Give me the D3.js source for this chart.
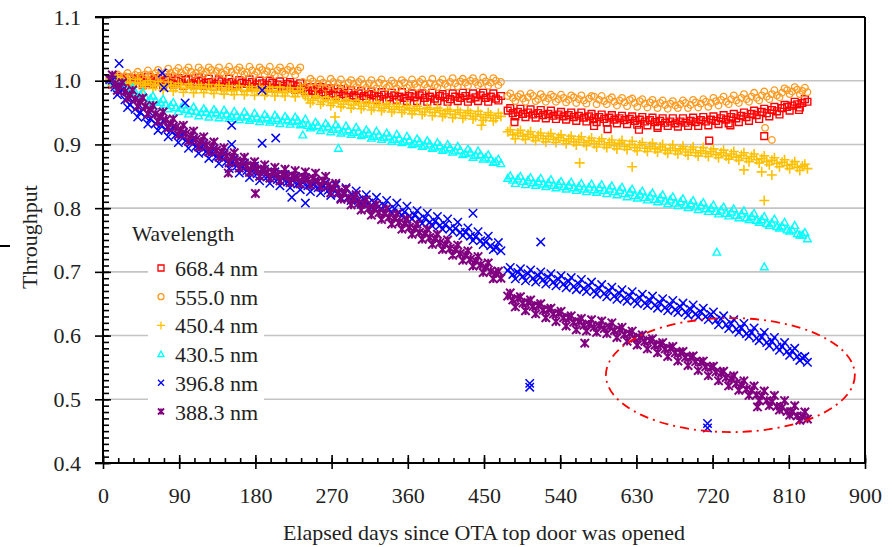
<!DOCTYPE html>
<html>
<head>
<meta charset="utf-8">
<script src="https://cdn.jsdelivr.net/npm/d3@7"></script>
</head>
<body style="margin:0">
<svg id="chart" width="894" height="547"></svg>
<script>
// ─── Data ─────────────────────────────────────────────────────────────────
// measurement days: first pass before / after the gap
const daysA = [8,14,20,26,32,38,44,50,56,62,68,74,80,86,92,98,104,110,116,122,
  128,134,140,146,152,158,164,170,176,182,188,194,200,206,212,218,224,230,236,242,
  248,254,260,266,272,278,284,290,296,302,308,314,320,326,332,338,344,350,356,362,
  368,374,380,386,392,398,404,410,416,422,428,434,440,446,452,458,464,470];
const daysB = [478,484,490,496,502,508,514,520,526,532,538,544,550,556,562,568,574,580,586,592,
  598,604,610,616,622,628,634,640,646,652,658,664,670,676,682,688,694,700,706,712,
  718,724,730,736,742,748,754,760,766,772,778,784,790,796,802,808,814,820,826,832];
// second pass, in between
const daysC = [11,17,23,29,35,41,47,53,59,65,71,77,83,89,95,101,107,113,119,125,
  131,137,143,149,155,161,167,173,179,185,191,197,203,209,215,221,227,233,239,245,
  251,257,263,269,275,281,287,293,299,305,311,317,323,329,335,341,347,353,359,365,
  371,377,383,389,395,401,407,413,419,425,431,437,443,449,455,461,467];
const daysD = [481,487,493,499,505,511,517,523,529,535,541,547,553,559,565,571,577,583,589,595,
  601,607,613,619,625,631,637,643,649,655,661,667,673,679,685,691,697,703,709,715,
  721,727,733,739,745,751,757,763,769,775,781,787,793,799,805,811,817,823,829];

const wavelengths = ["668.4 nm", "555.0 nm", "450.4 nm", "430.5 nm", "396.8 nm", "388.3 nm"];

const thr668 = [
  1.002,0.999,1.003,1.000,0.998,1.002,1.001,0.997,1.000,1.002,
  0.999,1.001,0.997,1.000,0.998,1.001,0.996,0.999,1.000,0.997,
  0.998,0.995,0.999,0.996,0.998,0.994,0.997,0.995,0.998,0.994,
  0.996,0.993,0.997,0.994,0.992,0.995,0.993,0.991,0.988,0.985,
  0.984,0.986,0.982,0.984,0.980,0.982,0.979,0.981,0.977,0.980,
  0.976,0.979,0.977,0.975,0.978,0.974,0.977,0.975,0.973,0.976,
  0.974,0.977,0.973,0.975,0.972,0.976,0.974,0.971,0.975,0.973,
  0.976,0.972,0.974,0.977,0.973,0.975,0.972,0.976,
  0.953,0.949,0.951,0.948,0.950,0.947,0.949,0.946,0.948,0.945,
  0.947,0.944,0.946,0.943,0.945,0.942,0.944,0.941,0.943,0.940,
  0.942,0.939,0.941,0.938,0.940,0.937,0.939,0.936,0.938,0.935,
  0.937,0.934,0.936,0.933,0.936,0.934,0.937,0.935,0.938,0.936,
  0.939,0.937,0.941,0.939,0.943,0.941,0.945,0.943,0.948,0.946,
  0.951,0.949,0.954,0.952,0.957,0.959,0.961,0.963,0.965,0.967];
const thr668b = [
  0.994,1.006,0.996,1.005,0.995,1.004,0.993,1.006,0.995,1.004,
  0.993,1.005,0.994,1.004,0.992,1.003,0.993,1.005,0.992,1.003,
  0.991,1.002,0.990,1.003,0.991,1.001,0.989,1.002,0.990,1.000,
  0.989,1.000,0.988,0.999,0.987,0.998,0.986,0.996,0.984,0.990,
  0.978,0.990,0.977,0.988,0.976,0.987,0.974,0.985,0.973,0.984,
  0.971,0.983,0.970,0.982,0.969,0.981,0.970,0.982,0.968,0.980,
  0.968,0.980,0.967,0.981,0.968,0.979,0.967,0.980,0.968,0.981,
  0.967,0.980,0.968,0.981,0.967,0.980,0.969,
  0.957,0.944,0.956,0.943,0.955,0.942,0.954,0.941,0.953,0.940,
  0.951,0.939,0.950,0.937,0.950,0.936,0.948,0.935,0.947,0.934,
  0.946,0.933,0.945,0.932,0.944,0.931,0.943,0.930,0.942,0.929,
  0.941,0.929,0.941,0.928,0.941,0.929,0.942,0.929,0.943,0.930,
  0.944,0.932,0.946,0.933,0.948,0.935,0.950,0.937,0.953,0.940,
  0.956,0.944,0.959,0.947,0.962,0.953,0.967,0.958,0.971];
const thr555 = [
  1.002,1.005,1.004,1.007,1.006,1.009,1.008,1.010,1.009,1.012,
  1.011,1.013,1.012,1.015,1.013,1.016,1.014,1.012,1.016,1.014,
  1.017,1.015,1.013,1.016,1.014,1.017,1.015,1.013,1.016,1.014,
  1.017,1.015,1.013,1.016,1.014,1.017,1.015,1.016,0.998,0.996,
  0.999,0.995,0.997,0.994,0.998,0.996,0.993,0.997,0.995,0.998,
  0.994,0.996,0.993,0.997,0.995,0.992,0.996,0.994,0.997,0.993,
  0.995,0.998,0.994,0.996,0.993,0.997,0.995,0.998,0.996,0.999,
  0.997,1.000,0.998,0.996,0.999,0.997,1.000,0.998,
  0.976,0.973,0.975,0.972,0.974,0.976,0.971,0.974,0.972,0.975,
  0.971,0.973,0.970,0.974,0.971,0.969,0.972,0.975,0.970,0.968,
  0.971,0.967,0.969,0.966,0.970,0.965,0.968,0.964,0.966,0.963,
  0.965,0.962,0.964,0.961,0.963,0.965,0.962,0.966,0.964,0.967,
  0.965,0.968,0.970,0.967,0.971,0.969,0.973,0.971,0.975,0.973,
  0.977,0.975,0.979,0.977,0.981,0.985,0.983,0.986,0.984,0.982];
const thr555b = [
  0.998,1.010,1.000,1.012,1.002,1.014,1.004,1.016,1.005,1.017,
  1.006,1.019,1.008,1.020,1.009,1.021,1.009,1.021,1.010,1.021,
  1.009,1.021,1.010,1.022,1.009,1.021,1.010,1.022,1.009,1.021,
  1.010,1.022,1.009,1.021,1.010,1.022,1.009,1.021,0.991,1.003,
  0.990,1.002,0.989,1.003,0.990,1.002,0.989,1.001,0.990,1.002,
  0.989,1.001,0.988,1.002,0.989,1.000,0.988,1.001,0.989,1.002,
  0.990,1.002,0.989,1.003,0.990,1.002,0.991,1.004,0.991,1.003,
  0.992,1.004,0.993,1.005,0.992,1.004,0.993,
  0.980,0.968,0.979,0.967,0.980,0.968,0.979,0.967,0.978,0.967,
  0.978,0.966,0.977,0.965,0.977,0.964,0.976,0.963,0.976,0.963,
  0.974,0.961,0.973,0.960,0.972,0.959,0.971,0.958,0.970,0.957,
  0.969,0.956,0.968,0.957,0.969,0.957,0.970,0.958,0.971,0.959,
  0.973,0.961,0.975,0.963,0.977,0.965,0.979,0.967,0.981,0.969,
  0.983,0.971,0.985,0.974,0.988,0.979,0.990,0.979,0.989];
const thr450 = [
  1.001,0.998,0.999,0.996,0.998,0.995,0.997,0.993,0.996,0.992,
  0.994,0.991,0.993,0.989,0.992,0.988,0.991,0.987,0.990,0.988,
  0.986,0.989,0.985,0.988,0.984,0.987,0.985,0.983,0.987,0.984,
  0.986,0.982,0.985,0.983,0.981,0.985,0.982,0.984,0.980,0.972,
  0.969,0.973,0.967,0.970,0.965,0.968,0.963,0.967,0.962,0.965,
  0.960,0.964,0.958,0.962,0.957,0.960,0.955,0.959,0.954,0.957,
  0.953,0.956,0.951,0.955,0.950,0.953,0.948,0.952,0.947,0.950,
  0.945,0.949,0.944,0.947,0.942,0.946,0.941,0.944,
  0.920,0.915,0.918,0.913,0.916,0.911,0.914,0.909,0.913,0.908,
  0.911,0.906,0.909,0.904,0.908,0.903,0.906,0.901,0.905,0.900,
  0.903,0.898,0.902,0.897,0.900,0.895,0.899,0.894,0.897,0.893,
  0.896,0.891,0.894,0.890,0.893,0.888,0.892,0.887,0.890,0.886,
  0.889,0.884,0.887,0.882,0.885,0.880,0.883,0.878,0.881,0.876,
  0.878,0.873,0.875,0.870,0.872,0.867,0.869,0.864,0.866,0.862];
const thr450b = [
  0.993,1.005,0.992,1.003,0.990,1.002,0.989,1.000,0.988,0.999,
  0.985,0.998,0.984,0.996,0.982,0.995,0.981,0.994,0.981,0.994,
  0.980,0.993,0.979,0.992,0.978,0.992,0.978,0.991,0.977,0.991,
  0.977,0.990,0.976,0.990,0.976,0.989,0.975,0.989,0.976,0.965,
  0.976,0.963,0.974,0.961,0.972,0.959,0.970,0.957,0.969,0.956,
  0.967,0.954,0.966,0.953,0.964,0.951,0.963,0.950,0.961,0.948,
  0.960,0.947,0.958,0.945,0.957,0.944,0.955,0.942,0.954,0.941,
  0.953,0.940,0.952,0.938,0.950,0.937,0.949,
  0.923,0.909,0.922,0.908,0.920,0.906,0.918,0.904,0.917,0.903,
  0.915,0.901,0.913,0.899,0.912,0.898,0.910,0.896,0.909,0.895,
  0.907,0.893,0.906,0.892,0.905,0.890,0.903,0.889,0.902,0.888,
  0.900,0.886,0.899,0.885,0.897,0.883,0.896,0.882,0.895,0.881,
  0.893,0.879,0.891,0.877,0.889,0.875,0.887,0.873,0.885,0.871,
  0.882,0.868,0.879,0.865,0.876,0.862,0.873,0.859,0.869];
const thr430 = [
  1.000,0.996,0.992,0.989,0.985,0.982,0.978,0.975,0.972,0.969,
  0.966,0.963,0.961,0.958,0.957,0.955,0.953,0.952,0.950,0.951,
  0.948,0.950,0.946,0.948,0.944,0.946,0.943,0.945,0.941,0.943,
  0.940,0.942,0.938,0.941,0.937,0.939,0.936,0.938,0.933,0.930,
  0.928,0.930,0.926,0.928,0.924,0.926,0.921,0.923,0.919,0.921,
  0.916,0.918,0.913,0.915,0.911,0.913,0.908,0.910,0.905,0.907,
  0.902,0.904,0.899,0.901,0.896,0.898,0.893,0.895,0.890,0.891,
  0.886,0.888,0.883,0.884,0.879,0.877,0.873,0.870,
  0.847,0.844,0.846,0.842,0.844,0.840,0.842,0.838,0.840,0.836,
  0.838,0.834,0.836,0.832,0.834,0.830,0.833,0.829,0.832,0.828,
  0.830,0.826,0.828,0.823,0.825,0.820,0.822,0.817,0.819,0.814,
  0.816,0.811,0.813,0.808,0.810,0.805,0.807,0.802,0.804,0.799,
  0.800,0.795,0.797,0.792,0.794,0.789,0.791,0.785,0.787,0.781,
  0.782,0.776,0.777,0.771,0.772,0.766,0.766,0.760,0.758,0.752];
const thr430b = [
  1.003,0.988,0.996,0.981,0.989,0.974,0.982,0.967,0.976,0.961,
  0.971,0.956,0.966,0.952,0.962,0.948,0.959,0.945,0.956,0.943,
  0.955,0.942,0.954,0.941,0.952,0.939,0.951,0.938,0.949,0.936,
  0.947,0.935,0.946,0.933,0.944,0.932,0.943,0.931,0.940,0.926,
  0.935,0.922,0.933,0.920,0.931,0.918,0.929,0.916,0.927,0.914,
  0.923,0.910,0.921,0.908,0.918,0.905,0.916,0.903,0.913,0.900,
  0.909,0.897,0.906,0.894,0.903,0.891,0.900,0.888,0.897,0.884,
  0.893,0.880,0.890,0.877,0.884,0.872,0.877,
  0.851,0.839,0.850,0.837,0.848,0.836,0.847,0.834,0.845,0.832,
  0.842,0.830,0.841,0.828,0.839,0.826,0.838,0.825,0.837,0.823,
  0.835,0.821,0.833,0.818,0.830,0.816,0.827,0.813,0.824,0.810,
  0.821,0.807,0.818,0.804,0.815,0.801,0.812,0.798,0.809,0.795,
  0.805,0.791,0.802,0.788,0.799,0.785,0.796,0.782,0.792,0.778,
  0.787,0.773,0.783,0.769,0.778,0.764,0.773,0.758,0.762];
const thr396 = [
  1.002,0.990,0.983,0.970,0.962,0.955,0.950,0.943,0.940,0.933,
  0.930,0.924,0.921,0.915,0.912,0.906,0.903,0.897,0.895,0.889,
  0.887,0.881,0.879,0.873,0.871,0.866,0.864,0.859,0.858,0.854,
  0.853,0.849,0.849,0.845,0.846,0.841,0.843,0.838,0.840,0.835,
  0.837,0.832,0.834,0.828,0.829,0.823,0.824,0.818,0.819,0.813,
  0.814,0.808,0.809,0.803,0.804,0.798,0.799,0.793,0.794,0.788,
  0.789,0.783,0.784,0.778,0.779,0.773,0.774,0.768,0.768,0.762,
  0.762,0.756,0.755,0.749,0.747,0.741,0.738,0.733,
  0.702,0.696,0.699,0.693,0.697,0.690,0.694,0.688,0.691,0.684,
  0.688,0.681,0.685,0.677,0.681,0.674,0.678,0.670,0.674,0.666,
  0.670,0.662,0.666,0.659,0.662,0.655,0.659,0.651,0.655,0.648,
  0.651,0.644,0.648,0.641,0.645,0.637,0.641,0.634,0.637,0.630,
  0.633,0.624,0.626,0.617,0.619,0.610,0.612,0.603,0.605,0.596,
  0.598,0.589,0.591,0.582,0.583,0.575,0.576,0.567,0.565,0.558];
const thr396b = [
  1.001,0.978,0.985,0.958,0.968,0.943,0.956,0.932,0.945,0.922,
  0.937,0.912,0.928,0.903,0.919,0.894,0.910,0.886,0.902,0.878,
  0.894,0.870,0.886,0.862,0.878,0.855,0.871,0.848,0.866,0.843,
  0.861,0.839,0.857,0.835,0.853,0.832,0.850,0.829,0.848,0.826,
  0.844,0.824,0.840,0.820,0.836,0.816,0.832,0.812,0.827,0.806,
  0.821,0.801,0.817,0.797,0.812,0.792,0.808,0.788,0.803,0.783,
  0.796,0.776,0.792,0.772,0.787,0.767,0.783,0.763,0.778,0.757,
  0.769,0.749,0.763,0.743,0.756,0.735,0.746,
  0.707,0.689,0.705,0.686,0.703,0.684,0.700,0.681,0.697,0.678,
  0.694,0.675,0.691,0.672,0.688,0.669,0.684,0.665,0.680,0.661,
  0.676,0.657,0.672,0.654,0.669,0.650,0.665,0.647,0.662,0.643,
  0.658,0.639,0.655,0.636,0.651,0.632,0.648,0.629,0.643,0.625,
  0.637,0.617,0.631,0.611,0.625,0.605,0.619,0.599,0.612,0.592,
  0.605,0.584,0.597,0.577,0.589,0.569,0.580,0.561,0.567];
const thr388 = [
  1.003,0.995,0.991,0.983,0.978,0.971,0.967,0.960,0.955,0.948,
  0.944,0.938,0.933,0.927,0.923,0.917,0.914,0.908,0.905,0.899,
  0.897,0.891,0.888,0.882,0.880,0.874,0.872,0.867,0.866,0.861,
  0.860,0.856,0.856,0.852,0.853,0.849,0.851,0.847,0.849,0.845,
  0.847,0.842,0.843,0.836,0.832,0.825,0.823,0.816,0.814,0.808,
  0.806,0.800,0.799,0.793,0.792,0.786,0.784,0.778,0.776,0.770,
  0.768,0.762,0.760,0.754,0.752,0.746,0.743,0.737,0.735,0.729,
  0.726,0.720,0.717,0.711,0.707,0.701,0.697,0.690,
  0.662,0.656,0.658,0.651,0.652,0.646,0.647,0.640,0.641,0.634,
  0.635,0.628,0.628,0.621,0.622,0.616,0.618,0.613,0.616,0.611,
  0.614,0.608,0.609,0.602,0.603,0.596,0.597,0.591,0.592,0.585,
  0.586,0.579,0.580,0.573,0.573,0.566,0.566,0.559,0.558,0.551,
  0.550,0.543,0.541,0.534,0.532,0.525,0.523,0.516,0.514,0.507,
  0.505,0.498,0.496,0.489,0.487,0.481,0.480,0.474,0.473,0.469];
const thr388b = [
  1.009,0.985,0.997,0.972,0.985,0.960,0.973,0.948,0.961,0.936,
  0.951,0.926,0.940,0.915,0.930,0.905,0.921,0.896,0.912,0.888,
  0.904,0.880,0.895,0.871,0.887,0.863,0.880,0.856,0.873,0.850,
  0.868,0.847,0.864,0.843,0.861,0.840,0.859,0.838,0.857,0.836,
  0.855,0.833,0.850,0.824,0.839,0.814,0.830,0.805,0.821,0.797,
  0.813,0.789,0.806,0.782,0.799,0.775,0.791,0.767,0.783,0.759,
  0.775,0.751,0.767,0.743,0.759,0.735,0.750,0.726,0.742,0.718,
  0.733,0.709,0.724,0.699,0.714,0.689,0.701,
  0.667,0.645,0.661,0.639,0.656,0.634,0.650,0.628,0.643,0.622,
  0.638,0.615,0.631,0.609,0.627,0.607,0.625,0.605,0.623,0.603,
  0.620,0.597,0.613,0.591,0.607,0.585,0.601,0.579,0.595,0.573,
  0.589,0.567,0.583,0.560,0.575,0.553,0.568,0.545,0.560,0.537,
  0.552,0.529,0.544,0.521,0.537,0.514,0.529,0.506,0.521,0.498,
  0.513,0.490,0.506,0.483,0.498,0.475,0.490,0.467,0.480];

// stray points [day, throughput]
const out668 = [[486,0.935],[580,0.929],[596,0.924],[633,0.923],[655,0.926],[716,0.906],[741,0.930],[781,0.913],[822,0.954]];
const out555 = [[782,0.926],[790,0.907]];
const out450 = [[274,0.943],[447,0.930],[563,0.871],[625,0.865],[757,0.860],[778,0.857],[790,0.852],[781,0.812]];
const out430 = [[236,0.915],[278,0.894],[725,0.731],[781,0.708]];
const out396 = [[19,1.027],[70,1.012],[72,0.989],[97,0.965],[152,0.930],[152,0.900],[188,0.985],[188,0.902],[204,0.910],
  [223,0.817],[239,0.808],[437,0.792],[517,0.747],[504,0.519],[504,0.525],[714,0.462],[714,0.455]];
const out388 = [[148,0.855],[180,0.823],[569,0.588],[773,0.488]];

// highlighted region (ellipse): centre day, centre throughput, half-width days, half-height
const ring = { day: 741, thr: 0.538, rDay: 147, rThr: 0.0895 };

const xTicks = [0,90,180,270,360,450,540,630,720,810,900];
const yTicks = [0.4,0.5,0.6,0.7,0.8,0.9,1.0,1.1];

// ─── Setup ────────────────────────────────────────────────────────────────
const SERIF = '"Liberation Serif"';
const svg = d3.select("#chart");
const x = d3.scaleLinear().domain([0, 900]).range([103, 865]);
const y = d3.scaleLinear().domain([0.4, 1.1]).range([463, 17]);
const days1 = daysA.concat(daysB);
const days2 = daysC.concat(daysD);

// marker shapes as path strings
const shapes = {
  square:   s => `M${-s},${-s}H${s}V${s}H${-s}Z`,
  circle:   s => `M${-s},0A${s},${s} 0 1,0 ${s},0A${s},${s} 0 1,0 ${-s},0Z`,
  plus:     s => `M${-s},0H${s}M0,${-s}V${s}`,
  triangle: s => `M0,${-s}L${s},${s*0.8}H${-s}Z`,
  cross:    s => `M${-s},${-s}L${s},${s}M${-s},${s}L${s},${-s}`,
  star:     s => `M${-s},${-s}L${s},${s}M${-s},${s}L${s},${-s}M0,${-s}V${s}`
};

const series = [
  { name: wavelengths[0], v1: thr668, v2: thr668b, out: out668, color: "#ff0000", shape: "square",   size: 3.4, sw: 1.4 },
  { name: wavelengths[1], v1: thr555, v2: thr555b, out: out555, color: "#ff9a1f", shape: "circle",   size: 3.3, sw: 1.3 },
  { name: wavelengths[2], v1: thr450, v2: thr450b, out: out450, color: "#ffc000", shape: "plus",     size: 5,   sw: 1.6 },
  { name: wavelengths[3], v1: thr430, v2: thr430b, out: out430, color: "#00ffff", shape: "triangle", size: 3.8, sw: 1.4 },
  { name: wavelengths[4], v1: thr396, v2: thr396b, out: out396, color: "#0000ff", shape: "cross",    size: 4.2, sw: 1.5 },
  { name: wavelengths[5], v1: thr388, v2: thr388b, out: out388, color: "#800080", shape: "star",     size: 4.2, sw: 2.0 }
];
series.forEach(s => {
  if (s.v1.length !== days1.length || s.v2.length !== days2.length)
    console.error(s.name, s.v1.length, s.v2.length);
});

const serif = (sel, size) => sel
  .classed("serif", true)
  .attr("data-size", size)
  .attr("font-size", size)
  .attr("fill", "#222")
  .style("font-family", SERIF);

// ─── Grid ─────────────────────────────────────────────────────────────────
svg.append("g")
  .selectAll("line")
  .data(yTicks.filter(v => v > 0.45 && v < 1.05))
  .join("line")
    .attr("x1", x(0)).attr("x2", x(900))
    .attr("y1", d => y(d)).attr("y2", d => y(d))
    .attr("stroke", "#c4c4c4")
    .attr("stroke-width", 1.6);

// ─── Points ───────────────────────────────────────────────────────────────
const plot = svg.append("g");
series.forEach(s => {
  const pts = days1.map((d, i) => [d, s.v1[i]])
    .concat(days2.map((d, i) => [d, s.v2[i]]))
    .concat(s.out);
  plot.append("g")
    .selectAll("path")
    .data(pts)
    .join("path")
      .attr("transform", d => `translate(${x(d[0])},${y(d[1])})`)
      .attr("d", shapes[s.shape](s.size))
      .attr("fill", "none")
      .attr("stroke", s.color)
      .attr("stroke-width", s.sw);
});

// ─── Ellipse highlight ────────────────────────────────────────────────────
svg.append("ellipse")
  .attr("cx", x(ring.day))
  .attr("cy", y(ring.thr))
  .attr("rx", x(ring.day + ring.rDay) - x(ring.day))
  .attr("ry", y(ring.thr - ring.rThr) - y(ring.thr))
  .attr("fill", "none")
  .attr("stroke", "#ff0000")
  .attr("stroke-width", 1.8)
  .attr("stroke-dasharray", "9,5,2,5");

// ─── Axes ─────────────────────────────────────────────────────────────────
const axisStyle = g => {
  g.select(".domain").remove();
  g.attr("font-family", null).attr("font-size", null);
  g.selectAll("line").attr("stroke", "#000").attr("stroke-width", 1.6);
  g.selectAll("text").call(serif, 22);
};

// y: minor ticks inside, major crossing ticks with labels
svg.append("g")
  .attr("transform", `translate(${x(0)},0)`)
  .call(d3.axisRight(y).tickValues(d3.range(40, 111).map(v => v / 100)).tickSize(6).tickFormat(""))
  .call(axisStyle);
svg.append("g")
  .attr("transform", `translate(${x(0)},0)`)
  .call(d3.axisRight(y).tickValues(yTicks).tickSize(8).tickFormat(""))
  .call(axisStyle);
svg.append("g")
  .attr("transform", `translate(${x(0)},0)`)
  .call(d3.axisLeft(y).tickValues(yTicks).tickSize(8).tickPadding(14).tickFormat(d3.format(".1f")))
  .call(axisStyle);

// x: minor ticks inside (every 18 days), major crossing ticks with labels
svg.append("g")
  .attr("transform", `translate(0,${y(0.4)})`)
  .call(d3.axisTop(x).tickValues(d3.range(0, 901, 18)).tickSize(5).tickFormat(""))
  .call(axisStyle);
svg.append("g")
  .attr("transform", `translate(0,${y(0.4)})`)
  .call(d3.axisTop(x).tickValues(xTicks).tickSize(8).tickFormat(""))
  .call(axisStyle);
svg.append("g")
  .attr("transform", `translate(0,${y(0.4)})`)
  .call(d3.axisBottom(x).tickValues(xTicks).tickSize(6).tickPadding(18).tickFormat(d3.format("d")))
  .call(axisStyle);

// frame lines
const frame = [
  [x(0), y(1.1), x(0), y(0.4)],
  [x(0) - 8, y(0.4), x(900), y(0.4)],
  [x(0) - 8, y(1.1), x(900), y(1.1)],
  [x(900), y(1.1), x(900), y(0.4)]
];
svg.append("g")
  .selectAll("line")
  .data(frame)
  .join("line")
    .attr("x1", d => d[0]).attr("y1", d => d[1])
    .attr("x2", d => d[2]).attr("y2", d => d[3])
    .attr("stroke", "#000")
    .attr("stroke-width", 2);

// stray dash at far left edge
svg.append("line").attr("x1", 0).attr("x2", 10).attr("y1", 246).attr("y2", 246)
  .attr("stroke", "#000").attr("stroke-width", 2);

// ─── Axis titles ──────────────────────────────────────────────────────────
svg.append("text")
  .attr("x", (x(0) + x(900)) / 2)
  .attr("y", 540)
  .attr("text-anchor", "middle")
  .call(serif, 22)
  .text("Elapsed days since OTA top door was opened");

svg.append("text")
  .attr("transform", "translate(37,237) rotate(-90)")
  .attr("text-anchor", "middle")
  .call(serif, 22)
  .text("Throughput");

// ─── Legend ───────────────────────────────────────────────────────────────
svg.append("rect")
  .attr("x", 148).attr("y", 252).attr("width", 116).attr("height", 172)
  .attr("fill", "#fff");
svg.append("text")
  .attr("x", 132).attr("y", 241)
  .call(serif, 21.5)
  .text("Wavelength");

const legend = svg.append("g")
  .selectAll("g")
  .data(series)
  .join("g")
    .attr("transform", (d, i) => `translate(161,${268 + i * 28.7})`);
legend.append("path")
  .attr("d", d => shapes[d.shape](d.shape === "plus" ? 4 : 3))
  .attr("fill", "none")
  .attr("stroke", d => d.color)
  .attr("stroke-width", d => d.shape === "star" ? 1.8 : 1.3);
legend.append("text")
  .attr("x", 14)
  .attr("y", 8)
  .call(serif, 22)
  .text(d => d.name);

// ─── Keep the serif face if anything restyles the texts later ─────────────
function reapplySerif() {
  svg.selectAll("text.serif").each(function () {
    if (this.style.getPropertyValue("font-family") !== SERIF) {
      this.style.setProperty("font-family", SERIF, "important");
    }
    if (this.getAttribute("font-family") !== "Liberation Serif") {
      this.setAttribute("font-family", "Liberation Serif");
    }
  });
}
new MutationObserver(reapplySerif).observe(svg.node(), {
  subtree: true, attributes: true, attributeFilter: ["style", "font-family", "class"]
});
[0, 50, 200, 500, 1000].forEach(t => setTimeout(reapplySerif, t));
</script>
</body>
</html>
